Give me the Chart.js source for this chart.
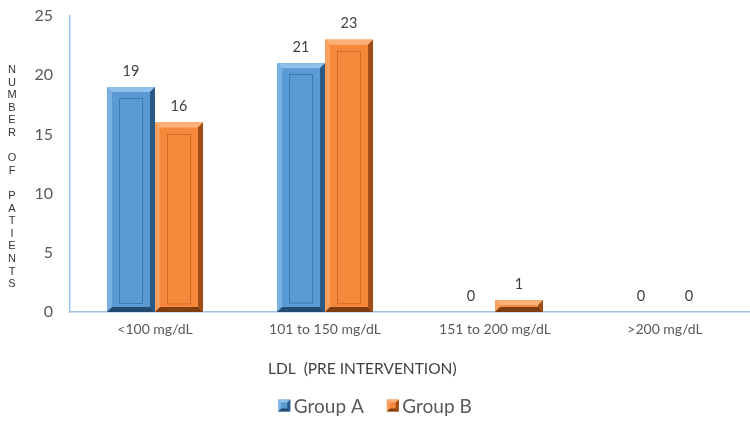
<!DOCTYPE html>
<html><head><meta charset="utf-8">
<script src="https://cdn.jsdelivr.net/npm/chart.js@4"></script>
<style>html,body{margin:0;padding:0;background:#fff}#w{width:750px;height:422px}</style>
</head><body><div id="w"><canvas id="c" width="750" height="422"></canvas></div>
<script>
const categories = ['<100 mg/dL', '101 to 150 mg/dL', '151 to 200 mg/dL', '>200 mg/dL'];
const groupA = [19, 21, 0, 0];
const groupB = [16, 23, 1, 0];
const seriesNames = ['Group A', 'Group B'];
const yTicks = [0, 5, 10, 15, 20, 25];
const xTitle = 'LDL  (PRE INTERVENTION)';
const yTitle = 'NUMBER OF PATIENTS';

const FONT = 'Lato, "Open Sans", sans-serif';
const shades = [
  {main:'#5B9BD5', light:'#8FC0EA', dark:'#2C5A86', darker:'#244B70', line:'#3F7AB0'},
  {main:'#F5883A', light:'#FBB079', dark:'#9E4E16', darker:'#7F3D10', line:'#D06A24'}
];

function drawBevel(ctx, l, y, width, base, s, d, inner){
  const r = l + width, h = base - y;
  ctx.save();
  ctx.fillStyle = s.main; ctx.fillRect(l, y, width, h);
  ctx.fillStyle = s.light;
  ctx.beginPath(); ctx.moveTo(l,y); ctx.lineTo(r,y); ctx.lineTo(r-d,y+d); ctx.lineTo(l+d,y+d); ctx.closePath(); ctx.fill();
  ctx.globalAlpha = 0.6;
  ctx.beginPath(); ctx.moveTo(l,y); ctx.lineTo(l+d,y+d); ctx.lineTo(l+d,base-d); ctx.lineTo(l,base); ctx.closePath(); ctx.fill();
  ctx.globalAlpha = 1;
  ctx.fillStyle = s.dark;
  ctx.beginPath(); ctx.moveTo(r,y); ctx.lineTo(r,base); ctx.lineTo(r-d,base-d); ctx.lineTo(r-d,y+d); ctx.closePath(); ctx.fill();
  ctx.fillStyle = s.darker;
  ctx.beginPath(); ctx.moveTo(l,base); ctx.lineTo(r,base); ctx.lineTo(r-d,base-d); ctx.lineTo(l+d,base-d); ctx.closePath(); ctx.fill();
  if (inner) {
    ctx.strokeStyle = s.line; ctx.lineWidth = 1;
    ctx.strokeRect(Math.round(l+12)+0.5, Math.round(y+11)+0.5, width-25, h-20);
  }
  ctx.restore();
}

const bevelPlugin = {
  id:'bevel',
  afterDatasetsDraw(chart){
    const ctx = chart.ctx;
    chart.data.datasets.forEach((ds, di) => {
      chart.getDatasetMeta(di).data.forEach(bar => {
        const {x, y, base, width} = bar.getProps(['x','y','base','width'], true);
        const h = base - y;
        if (h <= 0) return;
        drawBevel(ctx, x - width/2, y, width, base, shades[di], Math.min(5, h/2), h > 40);
      });
    });
  },
  afterDraw(chart){
    const boxes = chart.legend && chart.legend.legendHitBoxes;
    if (!boxes) return;
    boxes.forEach((b, i) => {
      const cy = b.top + b.height/2;
      drawBevel(chart.ctx, b.left, cy - 7, 12, cy + 5, shades[i], 3, false);
    });
  }
};

const labelPlugin = {
  id:'vals',
  afterDatasetsDraw(chart){
    const ctx = chart.ctx;
    ctx.save();
    ctx.font = '14.5px ' + FONT;
    ctx.fillStyle = '#404040';
    ctx.textAlign = 'center'; ctx.textBaseline = 'middle';
    chart.data.datasets.forEach((ds, di) => {
      chart.getDatasetMeta(di).data.forEach((bar, i) => {
        ctx.fillText(String(ds.data[i]), bar.x, bar.y - 16);
      });
    });
    ctx.restore();
  }
};

const titlesPlugin = {
  id:'titles',
  afterDraw(chart){
    const ctx = chart.ctx;
    const xs = chart.scales.x;
    ctx.save();
    ctx.fillStyle = '#404040';
    ctx.font = '15.5px ' + FONT;
    ctx.textAlign = 'left'; ctx.textBaseline = 'middle';
    ctx.fillText(xTitle, xs.left + 198, xs.top + 57);
    ctx.fillStyle = '#333333';
    ctx.font = '11px "Liberation Sans", Arial, sans-serif';
    ctx.textAlign = 'center';
    yTitle.split('').forEach((ch, i) => {
      ctx.fillText(ch, 12, 70 + i * 12.6);
    });
    ctx.restore();
  }
};

new Chart(document.getElementById('c'), {
  type:'bar',
  data:{
    labels: categories,
    datasets:[
      {label:seriesNames[0], data:groupA, backgroundColor:shades[0].main, borderWidth:0},
      {label:seriesNames[1], data:groupB, backgroundColor:shades[1].main, borderWidth:0}
    ]
  },
  options:{
    responsive:false, animation:false,
    layout:{padding:{top:16, right:0, left:0, bottom:-4}},
    datasets:{bar:{categoryPercentage:0.565, barPercentage:1}},
    plugins:{
      legend:{position:'bottom', labels:{font:{size:19, family:FONT}, color:'#595959', boxWidth:6, boxHeight:12, padding:23,
        generateLabels(chart){
          return chart.data.datasets.map((ds,i)=>({text:ds.label, fillStyle:'rgba(0,0,0,0)', strokeStyle:'rgba(0,0,0,0)', lineWidth:0, datasetIndex:i, fontColor:'#595959'}));
        }}},
      tooltip:{enabled:false}
    },
    scales:{
      x:{
        grid:{display:false, drawTicks:false},
        border:{display:true, color:'#9DC3E6', width:1.5},
        ticks:{font:{size:14, family:FONT}, color:'#595959', padding:9, maxRotation:0},
        afterFit(s){ s.height = 62; }
      },
      y:{
        min:0, max:25,
        afterBuildTicks(s){ s.ticks = yTicks.map(v=>({value:v})); },
        grid:{display:false, drawTicks:false},
        border:{display:true, color:'#9DC3E6', width:1.5},
        ticks:{font:{size:16, family:FONT}, color:'#595959', padding:17},
        afterFit(s){ s.width = 70; s.paddingTop = 0; }
      }
    }
  },
  plugins:[bevelPlugin, labelPlugin, titlesPlugin]
});
</script>
</body></html>
